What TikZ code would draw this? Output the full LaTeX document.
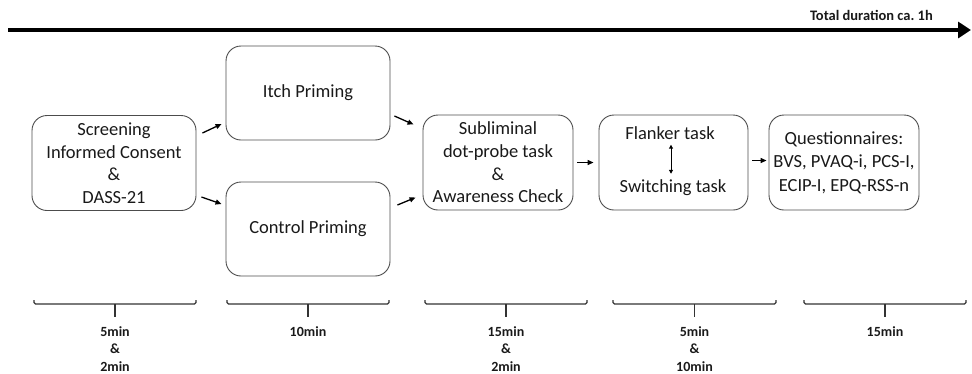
\documentclass[tikz,border=0pt]{standalone}
\usepackage{fontspec}
\setmainfont{Carlito}
\usetikzlibrary{arrows.meta,positioning,calc}
\begin{document}
\frenchspacing
\begin{tikzpicture}[x=1pt,y=-1pt,
  box/.style={draw=black!70,line width=0.9pt,rounded corners=15pt,align=center,
    font=\fontsize{18.5}{22.6}\selectfont,text=black!90,inner sep=0pt},
  arr/.style={-{Triangle[length=6pt,width=5pt]},line width=1.3pt},
  brc/.style={line width=1.1pt,draw=black!80,rounded corners=1.5pt},
  lab/.style={font=\bfseries\fontsize{14}{17.5}\selectfont,align=center,inner sep=0pt,text=black!90}]
\useasboundingbox (0,0) rectangle (972,373);
% top timeline
\coordinate (ta) at (8,30);
\coordinate (tb) at (971,30);
\draw[line width=4.5pt,-{Triangle[length=13pt,width=16pt]}] (ta) -- (tb);
\node[lab,anchor=east,font=\bfseries\fontsize{14.5}{17}\selectfont] (total) at (933,15) {Total duration ca. 1h};
% boxes
\node[box,minimum width=164pt,minimum height=95pt] (scr) at (114,163) {Screening\\Informed Consent\\\&\\DASS-21};
\node[box,minimum width=164pt,minimum height=94pt] (itch) at (308,93) {Itch Priming};
\node[box,minimum width=164pt,minimum height=94pt] (ctrl) at (308,229) {Control Priming};
\node[box,minimum width=150pt,minimum height=95pt] (sub) at (498,162.5) {Subliminal\\dot-probe task\\\&\\Awareness Check};
\node[box,minimum width=149pt,minimum height=95pt] (fl) at (673.5,162.5) {};
\node[font=\fontsize{18.5}{22.6}\selectfont,text=black!90,inner sep=0pt] (fl1) at (670,133) {Flanker task};
\node[font=\fontsize{18.5}{22.6}\selectfont,text=black!90,inner sep=0pt] (fl2) at (673,188) {Switching task};
\node[box,minimum width=150pt,minimum height=95pt,font=\fontsize{18.5}{23.5}\selectfont] (q) at (844,162.5) {Questionnaires:\\BVS, PVAQ-i, PCS-I,\\ECIP-I, EPQ-RSS-n};
% connectors
\coordinate (a1s) at ($(scr.east)+(6,-30)$);
\coordinate (a1e) at ($(itch.west)+(-4,31)$);
\draw[arr] (a1s) -- (a1e);
\coordinate (a2s) at ($(scr.east)+(5,34)$);
\coordinate (a2e) at ($(ctrl.west)+(-4,-25)$);
\draw[arr] (a2s) -- (a2e);
\coordinate (a3s) at ($(itch.east)+(4,23)$);
\coordinate (a3e) at ($(sub.west)+(-9,-38)$);
\draw[arr] (a3s) -- (a3e);
\coordinate (a4s) at ($(ctrl.east)+(7,-24)$);
\coordinate (a4e) at ($(sub.west)+(-7,35)$);
\draw[arr] (a4s) -- (a4e);
\draw[arr] ($(sub.east)+(4,0)$) -- ($(fl.west)+(-5,0)$);
\draw[arr] ($(fl.east)+(4,-2)$) -- ($(q.west)+(-2,-2)$);
\draw[{Triangle[length=4pt,width=4pt]}-{Triangle[length=4pt,width=4pt]},line width=1pt] ($(fl1.south)+(1,5)$) -- ($(fl2.north)+(-2,-6)$);
% braces
\foreach \xa/\xb/\nm in {34/196/b1,227/389/b2,425/587/b3,613/776/b4,804/966/b5}{
  \draw[brc] (\xa,300) -- (\xa,304) -- (\xb,304) -- (\xb,300);
  \coordinate (\nm) at ({(\xa+\xb)/2},304);
  \draw[brc] (\nm) -- ++(0,13);
}
\node[lab,anchor=north] (l1) at ($(b1)+(0,22)$) {5min\\\&\\2min};
\node[lab,anchor=north] (l2) at ($(b2)+(0,22)$) {10min};
\node[lab,anchor=north] (l3) at ($(b3)+(0,22)$) {15min\\\&\\2min};
\node[lab,anchor=north] (l4) at ($(b4)+(0,22)$) {5min\\\&\\10min};
\node[lab,anchor=north] (l5) at ($(b5)+(0,22)$) {15min};
\end{tikzpicture}
\end{document}
